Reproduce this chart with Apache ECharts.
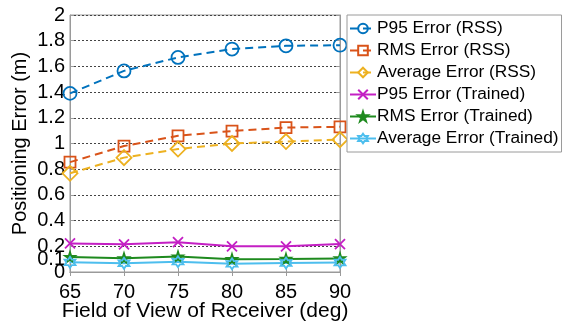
<!DOCTYPE html>
<html><head><meta charset="utf-8">
<script src="https://cdn.jsdelivr.net/npm/echarts@6/dist/echarts.min.js"></script>
<style>html,body{margin:0;padding:0;background:#fff}#c{width:563px;height:325px}</style>
</head><body><div id="c"></div>
<script>
const fov = [65, 70, 75, 80, 85, 90];
const p95Rss = [1.39, 1.565, 1.67, 1.735, 1.76, 1.765];
const rmsRss = [0.855, 0.98, 1.06, 1.097, 1.124, 1.13];
const avgRss = [0.768, 0.89, 0.957, 1.0, 1.015, 1.03];
const p95Trained = [0.222, 0.215, 0.232, 0.2, 0.2, 0.217];
const rmsTrained = [0.117, 0.107, 0.12, 0.1, 0.102, 0.106];
const avgTrained = [0.075, 0.068, 0.08, 0.064, 0.07, 0.074];
const yTicks = [0, 0.2, 0.4, 0.6, 0.8, 1, 1.2, 1.4, 1.6, 1.8, 2];
const yTicksExtra = [0.1];
const seriesNames = ['P95 Error (RSS)', 'RMS Error (RSS)', 'Average Error (RSS)', 'P95 Error (Trained)', 'RMS Error (Trained)', 'Average Error (Trained)'];

const colors = ['#0072BD', '#D95319', '#EDB120', '#C41FC4', '#1E8A1E', '#4DBEEE'];
const star = 'path://M10,0L12.25,6.91L19.51,6.91L13.63,11.18L15.88,18.09L10,13.82L4.12,18.09L6.37,11.18L0.49,6.91L7.75,6.91Z';
const hexa = 'path://M10,0L12.89,5L18.66,5L15.77,10L18.66,15L12.89,15L10,20L7.11,15L1.34,15L4.23,10L1.34,5L7.11,5Z';
const cross = 'path://M0,0L10,10M10,0L0,10';
const symbols = ['circle', 'rect', 'diamond', cross, star, hexa];
const sizes = [13, 11, 15, 10, 10, 11];
const values = [p95Rss, rmsRss, avgRss, p95Trained, rmsTrained, avgTrained];
const dashed = [true, true, true, false, false, false];

const font = 'Liberation Sans, Arial, sans-serif';
const series = values.map((v, i) => ({
  name: seriesNames[i],
  type: 'line',
  data: fov.map((x, j) => [x, v[j]]),
  symbol: symbols[i],
  symbolSize: sizes[i],
  showSymbol: true,
  lineStyle: { color: colors[i], width: 2, type: dashed[i] ? [8, 5] : 'solid' },
  itemStyle: { color: i === 4 ? colors[i] : 'rgba(255,255,255,0)', borderColor: colors[i], borderWidth: 1.8 },
  emphasis: { disabled: true },
  z: 3
}));

const axisGray = '#9a9a9a';
const chart = echarts.init(document.getElementById('c'));
chart.setOption({
  animation: false,
  grid: { left: 70, right: 223, top: 15, bottom: 53, show: true, borderColor: axisGray, borderWidth: 1, outerBoundsMode: 'none', containLabel: false },
  legend: {
    orient: 'vertical', left: 347, top: 15,
    data: seriesNames,
    itemWidth: 26, itemHeight: 12, itemGap: 3,
    padding: [4, 3, 4, 2],
    borderColor: axisGray, borderWidth: 1, backgroundColor: '#fff',
    textStyle: { fontFamily: font, fontSize: 17.3, lineHeight: 19, color: '#000', padding: [0, 0, 0, -4] }
  },
  xAxis: [{
    type: 'value', min: 65, max: 90, interval: 5,
    name: 'Field of View of Receiver (deg)', nameLocation: 'middle', nameGap: 29, nameMoveOverlap: false,
    nameTextStyle: { fontFamily: font, fontSize: 21, color: '#000', verticalAlign: 'top' },
    axisLine: { show: true, lineStyle: { color: axisGray } },
    axisTick: { show: true, inside: true, length: 4, lineStyle: { color: axisGray } },
    axisLabel: { fontFamily: font, fontSize: 20, color: '#000', margin: 10 },
    splitLine: { show: false }
  }, {
    type: 'value', min: 65, max: 90, interval: 5, position: 'top',
    axisLine: { show: true, lineStyle: { color: axisGray } },
    axisTick: { show: true, inside: true, length: 4, lineStyle: { color: axisGray } },
    axisLabel: { show: false }, splitLine: { show: false }
  }],
  yAxis: [{
    type: 'value', min: 0, max: 2,
    name: 'Positioning Error (m)', nameLocation: 'middle', nameGap: 40, nameMoveOverlap: false,
    nameTextStyle: { fontFamily: font, fontSize: 20, color: '#000' },
    axisLine: { show: true, lineStyle: { color: axisGray } },
    axisTick: { show: true, inside: true, length: 4, customValues: yTicks, lineStyle: { color: axisGray } },
    axisLabel: { fontFamily: font, fontSize: 20, color: '#000', margin: 5, customValues: yTicks, showMinLabel: true, hideOverlap: false, formatter: v => String(v) },
    splitLine: { show: true, lineStyle: { color: '#444', type: [2, 2], width: 1 } }
  }, {
    type: 'value', min: 0, max: 2, position: 'right',
    axisLine: { show: true, lineStyle: { color: axisGray } },
    axisTick: { show: true, inside: true, length: 4, customValues: yTicks, lineStyle: { color: axisGray } },
    axisLabel: { show: false }, splitLine: { show: false }
  }, {
    type: 'value', min: 0, max: 2, position: 'left', offset: 0,
    axisLine: { show: false },
    axisTick: { show: true, inside: true, length: 4, customValues: yTicksExtra, lineStyle: { color: axisGray } },
    axisLabel: { fontFamily: font, fontSize: 20, color: '#000', margin: 5, customValues: yTicksExtra, formatter: v => String(v) },
    splitLine: { show: false }
  }],
  series: series
});
</script>
</body></html>
